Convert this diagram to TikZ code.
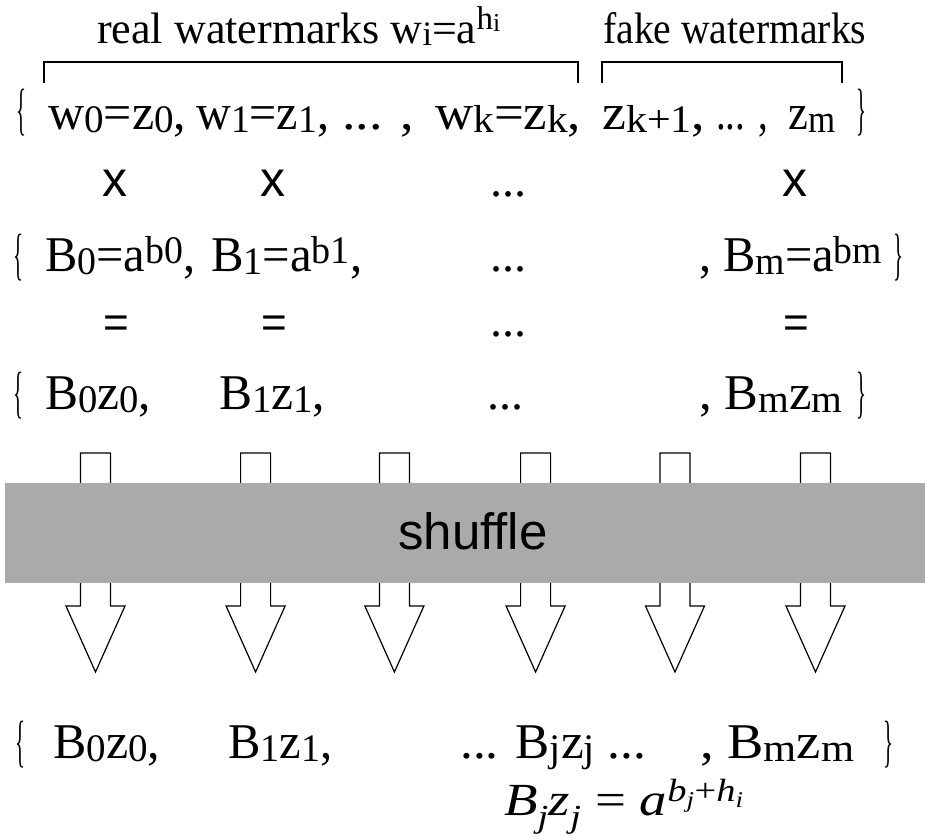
\documentclass[tikz,border=0pt]{standalone}
\usepackage{fontspec}
\setmainfont{Liberation Serif}
\setsansfont{Liberation Sans}
\newcommand\dn[1]{\raisebox{-0.06em}{\scalebox{0.78}{#1}}}
\newcommand\up[1]{\raisebox{0.15em}{\scalebox{0.78}{#1}}}
\newcommand\fw[2]{\resizebox{#1}{\height}{#2}}
\newcommand\brc[1]{\resizebox*{10pt}{47pt}{#1}}
\begin{document}
\begin{tikzpicture}[x=1pt,y=-1pt,
  pc/.style={anchor=base west, inner sep=0pt},
  big/.style={pc, font=\fontsize{50}{56}\selectfont},
  lbl/.style={pc, font=\fontsize{44}{50}\selectfont},
  brace/.style={anchor=north west, inner sep=0pt, font=\fontsize{40}{40}\selectfont},
  op/.style={anchor=base, inner sep=0pt, font=\sffamily\fontsize{50}{50}\selectfont},
  eq/.style={anchor=center, inner sep=0pt, font=\sffamily\fontsize{44}{50}\selectfont},
  dots/.style={anchor=base, inner sep=0pt, font=\fontsize{48}{50}\selectfont},
  brk/.style={line width=2.5pt},
  barrow/.style={draw=black, fill=white, line width=1.2pt, line join=miter}]
\useasboundingbox (0,0) rectangle (925,839);
% row 1
\node[lbl] (real) at (97,43) {\fw{403pt}{real watermarks w\dn{i}=a\raisebox{0.3em}{\scalebox{0.75}{h\dn{i}}}}};
\node[lbl] (fake) at (603,43) {\fw{263pt}{fake watermarks}};
\draw[brk] (44,83) -- (44,62) -- (578,62) -- (578,83);
\draw[brk] (602,83) -- (602,62) -- (842,62) -- (842,83);
% row 2
\node[brace] (r2a) at (16,89) {\brc{\{}};
\node[big] (r2b) at (48,129) {\fw{138pt}{w\dn{0}=z\dn{0},}};
\node[big] (r2c) at (196,129) {\fw{133pt}{w\dn{1}=z\dn{1},}};
\node[big] (r2d) at (342,129) {\fw{72pt}{... ,}};
\node[big] (r2e) at (435,129) {\fw{146pt}{w\dn{k}=z\dn{k},}};
\node[big] (r2f) at (602,129) {\fw{103pt}{z\dn{k+1},}};
\node[big] (r2g) at (716,129) {\fw{52pt}{... ,}};
\node[big] (r2h) at (788,129) {\fw{47pt}{z\dn{m}}};
\node[brace] (r2i) at (856,89) {\brc{\}}};
% row 3
\node[op] (x0) at (114.5,196) {x};
\node[op] (x1) at (273,196) {x};
\node[dots] (x2) at (508,196) {...};
\node[op] (x3) at (795,196) {x};
% row 4
\node[brace] (r4a) at (13,234) {\brc{\{}};
\node[big] (r4b) at (45,271) {\fw{150pt}{B\dn{0}=a\up{b0},}};
\node[big] (r4c) at (211,271) {\fw{151pt}{B\dn{1}=a\up{b1},}};
\node[dots] (r4d) at (508,271) {...};
\node[big] (r4e) at (699,271) {\fw{183pt}{, B\dn{m}=a\up{bm}}};
\node[brace] (r4f) at (893,234) {\brc{\}}};
% row 5
\node[eq] (e0) at (116,327) {=};
\node[eq] (e1) at (274,327) {=};
\node[dots] (e2) at (508,336) {...};
\node[eq] (e3) at (796,327) {=};
% row 6
\node[brace] (r6a) at (13,372) {\brc{\{}};
\node[big] (r6b) at (45,409) {\fw{106pt}{B\dn{0}z\dn{0},}};
\node[big] (r6c) at (219,409) {\fw{106pt}{B\dn{1}z\dn{1},}};
\node[dots] (r6d) at (505,409) {...};
\node[big] (r6e) at (699,409) {\fw{143pt}{, B\dn{m}z\dn{m}}};
\node[brace] (r6f) at (856,372) {\brc{\}}};
% block arrows
\foreach \cx in {95.5,255.6,394.4,535.6,675,815.5} {
  \draw[barrow] (\cx-15,453) -- (\cx+15,453) -- (\cx+15,606) -- (\cx+29.5,606)
    -- (\cx,672) -- (\cx-29.5,606) -- (\cx-15,606) -- cycle;
}
\fill[fill={rgb,255:red,170;green,170;blue,170}] (5,483) rectangle (925,583);
\node[anchor=base, inner sep=0pt, font=\sffamily\fontsize{51}{52}\selectfont] (shuffle) at (473,549) {shuffle};
% row 7
\node[brace] (r7a) at (15,721) {\brc{\{}};
\node[big] (r7b) at (53,758) {\fw{107pt}{B\dn{0}z\dn{0},}};
\node[big] (r7c) at (228,758) {\fw{104pt}{B\dn{1}z\dn{1},}};
\node[big] (r7d) at (460,758) {\fw{186pt}{... B\dn{j}z\dn{j} ...}};
\node[big] (r7e) at (700,758) {\fw{154pt}{, B\dn{m}z\dn{m}}};
\node[brace] (r7f) at (883,721) {\brc{\}}};
% formula
\node[pc, font=\fontsize{46}{50}\selectfont] (form) at (504,815) {\fw{240pt}{\textit{B}\textsubscript{\textit{j}}\textit{z}\textsubscript{\textit{j}} = \textit{a}\textsuperscript{\textit{b}\textsubscript{\textit{j}}+\textit{h}\textsubscript{\textit{i}}}}};
\end{tikzpicture}
\end{document}
